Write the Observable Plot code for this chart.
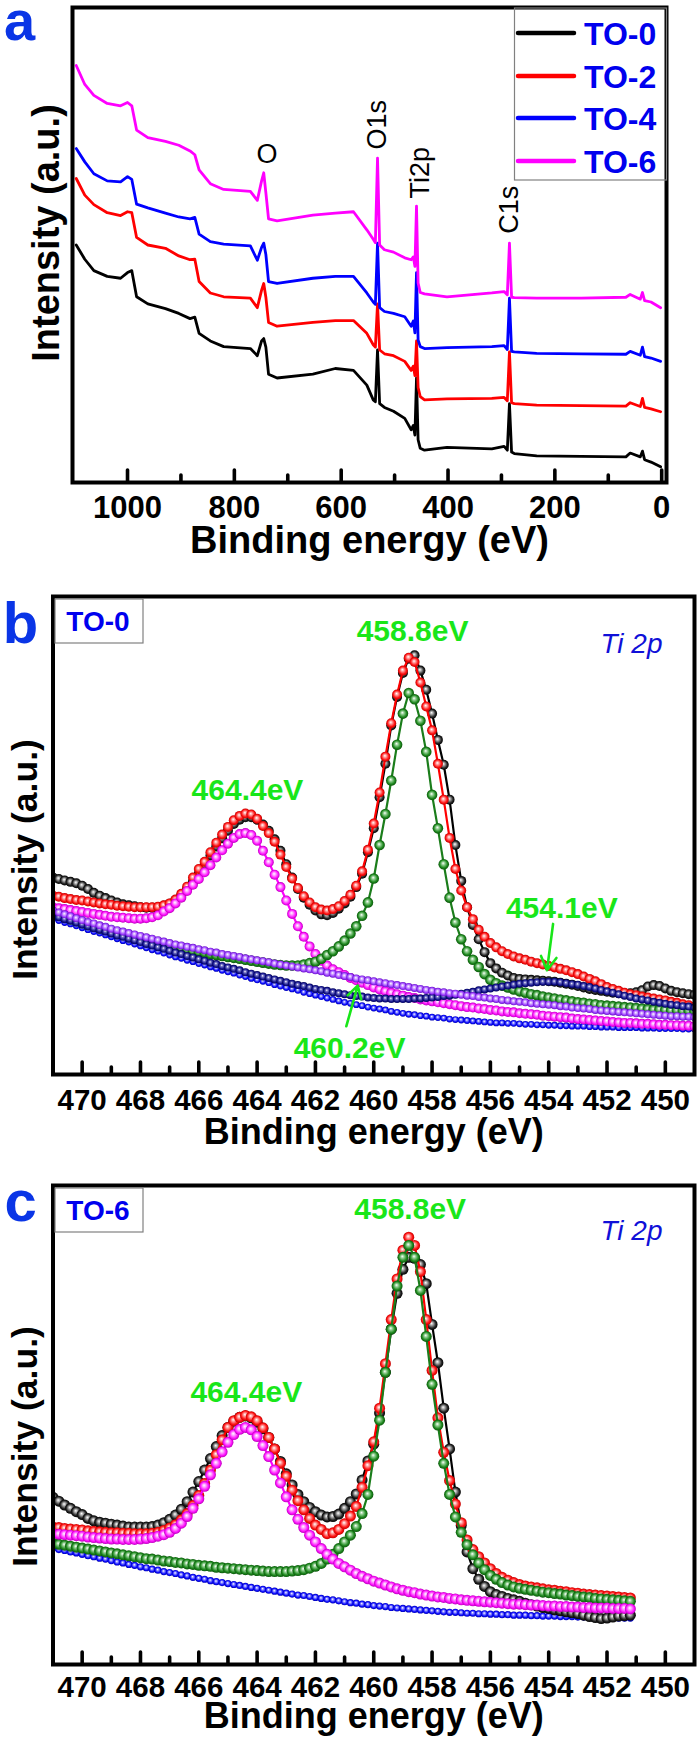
<!DOCTYPE html>
<html>
<head>
<meta charset="utf-8">
<script src="https://cdn.jsdelivr.net/npm/d3@7"></script>
<script src="https://cdn.jsdelivr.net/npm/@observablehq/plot@0.6"></script>
<style>
  body { margin: 0; background: #fff; }
  #wrap { position: relative; width: 700px; height: 1743px; background: #fff; overflow: hidden; }
  #wrap > svg { position: absolute; left: 0; }
</style>
</head>
<body>
<svg width="0" height="0" style="position:absolute"><defs id="grads"></defs></svg>
<div id="wrap"></div>
<script>
// ---------------- Panel a : survey spectra ----------------
const surveyEnergy = [1096, 1080, 1063, 1038, 1013, 1000, 992, 983, 962, 929,
  904, 883, 874, 866, 845, 820, 770, 757, 749, 745,
  741, 736, 720, 653, 611, 577, 552, 540, 536, 532,
  528, 519, 502, 481, 469, 465, 462, 459, 456, 452,
  444, 402, 318, 295, 289, 285, 281, 276, 234, 151,
  67, 59, 40, 36, 32, 20, 2];
const surveyTO0 = [50.0, 47.0, 44.6, 43.4, 43.0, 44.2, 44.6, 39.1, 37.6, 36.6,
  35.6, 34.5, 34.8, 31.4, 29.8, 28.6, 28.2, 26.7, 29.8, 30.3,
  28.5, 22.8, 22.0, 22.8, 24.0, 23.6, 20.5, 17.4, 17.0, 27.9,
  16.6, 15.8, 15.0, 13.5, 11.1, 12.0, 10.0, 22.0, 9.0, 7.2,
  6.8, 7.4, 7.1, 7.6, 6.8, 16.6, 6.4, 6.1, 5.6, 5.5,
  5.4, 6.2, 5.4, 6.6, 4.8, 4.3, 3.3];
const surveyTO2 = [64.0, 60.5, 58.5, 56.8, 56.2, 57.0, 56.8, 51.6, 50.0, 49.3,
  47.7, 46.9, 47.0, 42.3, 39.9, 39.1, 38.8, 36.8, 40.5, 41.9,
  39.0, 33.7, 32.9, 33.7, 34.1, 34.1, 31.4, 29.0, 28.5, 37.6,
  27.9, 27.1, 26.7, 25.5, 23.6, 24.5, 22.5, 29.8, 20.0, 18.1,
  17.4, 17.6, 17.7, 17.9, 17.2, 27.5, 16.8, 16.6, 16.3, 16.2,
  16.1, 16.8, 16.0, 17.7, 15.8, 15.5, 14.9];
const surveyTO4 = [70.3, 67.5, 65.0, 63.5, 63.3, 64.4, 63.8, 58.6, 57.8, 56.7,
  55.9, 55.5, 55.8, 52.3, 50.7, 50.2, 49.8, 46.8, 49.5, 50.4,
  48.0, 42.3, 41.9, 43.0, 43.4, 43.4, 39.9, 38.0, 37.5, 50.4,
  36.8, 36.0, 35.6, 34.9, 32.9, 34.0, 31.5, 44.2, 30.0, 28.6,
  28.2, 28.4, 28.6, 28.8, 28.0, 38.8, 27.6, 27.5, 27.2, 27.1,
  27.0, 27.6, 26.8, 28.5, 26.5, 26.2, 25.5];
const surveyTO6 = [87.8, 83.8, 81.5, 79.8, 79.3, 80.0, 79.3, 74.2, 72.6, 71.8,
  71.0, 69.8, 69.0, 65.8, 62.9, 61.7, 61.3, 59.4, 63.5, 65.2,
  61.0, 55.5, 55.1, 56.3, 56.7, 57.0, 53.2, 51.2, 50.5, 68.3,
  50.0, 49.0, 48.5, 47.3, 46.9, 47.5, 45.5, 58.2, 42.0, 40.0,
  39.7, 39.1, 39.9, 40.2, 39.5, 50.4, 39.0, 38.9, 38.8, 38.8,
  39.0, 39.6, 38.6, 40.0, 38.3, 38.0, 36.8];
const seriesNames = ["TO-0", "TO-2", "TO-4", "TO-6"];
const seriesColors = ["#000000", "#ff0000", "#0000ff", "#ff00ff"];
const surveyTicksMajor = [1000, 800, 600, 400, 200, 0];
const surveyTicksMinor = [900, 700, 500, 300, 100];
const surveyPeakLabels = ["O", "O1s", "Ti2p", "C1s"];
const surveyPeakEnergy = [739, 531.7, 452.3, 285.1];
const surveyPeakLevel = [69.1, 75.3, 65.2, 57.4];
const surveyPeakRotate = [0, -90, -90, -90];

// ---------------- Panels b, c : Ti 2p ----------------
const tiEnergy = [471.2, 471, 470.8, 470.6, 470.4, 470.2, 470, 469.8, 469.6, 469.4,
  469.2, 469, 468.8, 468.6, 468.4, 468.2, 468, 467.8, 467.6, 467.4,
  467.2, 467, 466.8, 466.6, 466.4, 466.2, 466, 465.8, 465.6, 465.4,
  465.2, 465, 464.8, 464.6, 464.4, 464.2, 464, 463.8, 463.6, 463.4,
  463.2, 463, 462.8, 462.6, 462.4, 462.2, 462, 461.8, 461.6, 461.4,
  461.2, 461, 460.8, 460.6, 460.4, 460.2, 460, 459.8, 459.6, 459.4,
  459.2, 459, 458.8, 458.6, 458.4, 458.2, 458, 457.8, 457.6, 457.4,
  457.2, 457, 456.8, 456.6, 456.4, 456.2, 456, 455.8, 455.6, 455.4,
  455.2, 455, 454.8, 454.6, 454.4, 454.2, 454, 453.8, 453.6, 453.4,
  453.2, 453, 452.8, 452.6, 452.4, 452.2, 452, 451.8, 451.6, 451.4,
  451.2, 451, 450.8, 450.6, 450.4, 450.2, 450, 449.8, 449.6, 449.4,
  449.2, 449, 448.8];
const tiTicksMajor = [470, 468, 466, 464, 462, 460, 458, 456, 454, 452, 450];
const tiTicksMinor = [469, 467, 465, 463, 461, 459, 457, 455, 453, 451];

// Panel b (TO-0)
const bData = [41.5, 41.2, 40.9, 40.6, 40.3, 40.0, 39.5, 38.8, 38.0, 37.4,
  36.9, 36.4, 36.0, 35.6, 35.4, 35.2, 35.0, 34.9, 34.9, 35.0,
  35.3, 35.7, 36.5, 37.5, 38.8, 40.3, 42.0, 43.8, 45.8, 47.7,
  49.4, 51.0, 52.4, 53.3, 53.8, 53.8, 53.3, 52.3, 51.0, 49.2,
  46.8, 44.0, 41.2, 38.8, 37.0, 35.5, 34.3, 33.5, 33.3, 33.8,
  34.7, 35.8, 37.2, 39.2, 42.0, 46.5, 51.5, 58.0, 65.0, 73.0,
  79.0, 84.0, 87.0, 87.7, 84.5, 80.5, 75.5, 70.0, 64.8, 57.5,
  48.0, 40.5, 35.0, 31.3, 28.3, 25.6, 23.3, 22.2, 21.3, 20.7,
  20.2, 20.0, 19.9, 19.8, 19.7, 19.6, 19.5, 19.4, 19.2, 19.0,
  18.8, 18.5, 18.2, 17.9, 17.7, 17.5, 17.3, 17.1, 17.0, 16.9,
  17.0, 17.2, 17.6, 18.4, 18.7, 18.5, 18.0, 17.5, 17.2, 17.0,
  16.8, 16.7, 16.6];
const bEnvelope = [37.8, 37.4, 37.2, 36.9, 36.7, 36.5, 36.4, 36.2, 36.0, 35.8,
  35.6, 35.5, 35.3, 35.2, 35.1, 35.0, 35.0, 35.0, 35.0, 35.1,
  35.4, 35.8, 36.6, 37.8, 39.3, 41.2, 43.0, 44.5, 46.5, 48.5,
  50.2, 51.8, 53.2, 54.1, 54.6, 54.4, 53.5, 52.0, 50.5, 48.7,
  46.0, 43.4, 41.0, 39.0, 37.3, 36.0, 35.0, 34.5, 34.3, 34.6,
  35.2, 36.3, 37.6, 39.5, 42.5, 47.0, 52.5, 59.0, 66.5, 73.5,
  79.5, 84.5, 87.2, 86.3, 82.0, 77.0, 72.0, 65.0, 57.5, 49.5,
  43.0, 38.5, 35.0, 32.5, 30.3, 28.8, 27.5, 26.6, 25.8, 25.2,
  24.7, 24.3, 24.0, 23.6, 23.3, 23.0, 22.7, 22.4, 22.1, 21.8,
  21.4, 21.0, 20.5, 20.0, 19.5, 18.9, 18.3, 17.9, 17.5, 17.1,
  16.8, 16.6, 16.3, 16.1, 15.9, 15.7, 15.5, 15.2, 15.0, 14.7,
  14.5, 14.2, 14.0];
const bPeak4644 = [35.3, 35.0, 34.8, 34.6, 34.4, 34.2, 34.0, 33.8, 33.6, 33.4,
  33.2, 33.0, 32.9, 32.8, 32.7, 32.6, 32.6, 32.7, 32.9, 33.3,
  34.1, 34.8, 35.8, 37.0, 38.4, 39.7, 40.9, 42.3, 43.8, 45.4,
  46.9, 48.3, 49.5, 50.3, 50.5, 50.1, 48.9, 46.8, 44.4, 41.8,
  39.2, 36.4, 33.6, 31.0, 28.8, 26.8, 25.2, 23.8, 22.8, 22.0,
  21.4, 20.8, 20.2, 19.7, 19.2, 18.7, 18.2, 17.8, 17.4, 17.1,
  16.8, 16.5, 16.2, 16.0, 15.7, 15.5, 15.3, 15.1, 14.9, 14.7,
  14.5, 14.3, 14.1, 14.0, 13.8, 13.7, 13.5, 13.4, 13.2, 13.1,
  13.0, 12.8, 12.7, 12.6, 12.5, 12.3, 12.2, 12.1, 12.0, 11.9,
  11.7, 11.6, 11.5, 11.4, 11.3, 11.2, 11.1, 11.0, 10.9, 10.8,
  10.8, 10.7, 10.6, 10.6, 10.5, 10.4, 10.4, 10.3, 10.3, 10.2,
  10.2, 10.1, 10.1];
const bPeak4588 = [34.1, 33.7, 33.3, 32.9, 32.5, 32.1, 31.7, 31.3, 31.0, 30.6,
  30.3, 29.9, 29.6, 29.3, 29.0, 28.7, 28.4, 28.1, 27.8, 27.5,
  27.2, 26.9, 26.7, 26.4, 26.2, 25.9, 25.7, 25.5, 25.2, 25.0,
  24.8, 24.6, 24.4, 24.2, 24.0, 23.8, 23.6, 23.4, 23.2, 23.0,
  22.9, 22.8, 22.8, 22.8, 23.0, 23.3, 23.6, 24.2, 25.0, 25.8,
  26.8, 28.0, 29.5, 31.0, 33.2, 36.0, 41.0, 48.0, 54.5, 61.5,
  69.0, 75.5, 79.8, 78.5, 74.0, 67.5, 58.5, 51.5, 44.0, 37.0,
  31.8, 28.3, 25.8, 24.0, 22.5, 21.0, 19.8, 19.1, 18.6, 18.2,
  17.8, 17.4, 17.1, 16.8, 16.6, 16.3, 16.1, 15.9, 15.7, 15.5,
  15.3, 15.1, 15.0, 14.8, 14.7, 14.5, 14.4, 14.3, 14.2, 14.1,
  14.0, 13.9, 13.8, 13.7, 13.6, 13.6, 13.5, 13.4, 13.4, 13.3,
  13.3, 13.2, 13.2];
const bPeak4541 = [33.7, 33.3, 32.9, 32.5, 32.2, 31.8, 31.4, 31.0, 30.6, 30.3,
  29.9, 29.5, 29.1, 28.8, 28.4, 28.1, 27.7, 27.3, 27.0, 26.6,
  26.3, 25.9, 25.5, 25.2, 24.8, 24.5, 24.1, 23.8, 23.4, 23.1,
  22.7, 22.4, 22.1, 21.8, 21.4, 21.1, 20.8, 20.5, 20.2, 19.9,
  19.6, 19.3, 19.0, 18.7, 18.5, 18.2, 17.9, 17.7, 17.5, 17.2,
  17.0, 16.8, 16.6, 16.4, 16.3, 16.1, 16.0, 15.9, 15.9, 15.8,
  15.8, 15.8, 15.8, 15.9, 15.9, 16.0, 16.1, 16.2, 16.4, 16.5,
  16.7, 16.9, 17.1, 17.3, 17.6, 17.8, 18.0, 18.2, 18.4, 18.6,
  18.8, 19.0, 19.1, 19.2, 19.3, 19.4, 19.4, 19.4, 19.3, 19.1,
  18.9, 18.8, 18.5, 18.3, 18.0, 17.7, 17.4, 17.1, 16.8, 16.5,
  16.2, 15.9, 15.7, 15.5, 15.2, 15.0, 14.8, 14.6, 14.5, 14.3,
  14.2, 14.0, 13.9];
const bPeak4602 = [34.7, 34.3, 33.9, 33.5, 33.1, 32.7, 32.3, 31.9, 31.6, 31.2,
  30.9, 30.5, 30.2, 29.9, 29.6, 29.3, 29.0, 28.7, 28.4, 28.1,
  27.8, 27.5, 27.2, 27.0, 26.7, 26.5, 26.2, 26.0, 25.7, 25.5,
  25.2, 25.0, 24.8, 24.6, 24.3, 24.1, 23.9, 23.7, 23.5, 23.2,
  23.0, 22.8, 22.6, 22.4, 22.2, 22.0, 21.8, 21.6, 21.3, 21.1,
  20.8, 20.6, 20.4, 20.1, 19.9, 19.7, 19.5, 19.3, 19.1, 18.9,
  18.7, 18.5, 18.3, 18.1, 17.9, 17.7, 17.5, 17.3, 17.2, 17.0,
  16.9, 16.7, 16.5, 16.4, 16.2, 16.1, 15.9, 15.8, 15.6, 15.5,
  15.3, 15.2, 15.1, 14.9, 14.8, 14.7, 14.6, 14.5, 14.3, 14.2,
  14.0, 13.9, 13.8, 13.7, 13.5, 13.4, 13.3, 13.2, 13.1, 13.0,
  12.9, 12.8, 12.7, 12.6, 12.5, 12.4, 12.3, 12.2, 12.2, 12.1,
  12.1, 12.0, 11.9];
const bBackground = [33.0, 32.6, 32.2, 31.8, 31.5, 31.1, 30.7, 30.3, 29.9, 29.6,
  29.2, 28.8, 28.4, 28.0, 27.7, 27.3, 26.9, 26.5, 26.1, 25.8,
  25.4, 25.0, 24.6, 24.3, 23.9, 23.6, 23.2, 22.9, 22.5, 22.2,
  21.8, 21.5, 21.2, 20.8, 20.5, 20.1, 19.8, 19.5, 19.2, 18.8,
  18.5, 18.2, 17.9, 17.6, 17.2, 16.9, 16.6, 16.3, 16.0, 15.7,
  15.4, 15.1, 14.9, 14.6, 14.4, 14.1, 13.9, 13.7, 13.5, 13.2,
  13.0, 12.8, 12.6, 12.5, 12.3, 12.2, 12.0, 11.9, 11.8, 11.6,
  11.5, 11.4, 11.3, 11.2, 11.1, 11.0, 10.9, 10.8, 10.8, 10.7,
  10.7, 10.6, 10.5, 10.5, 10.4, 10.4, 10.3, 10.3, 10.2, 10.2,
  10.1, 10.1, 10.1, 10.0, 10.0, 9.9, 9.9, 9.9, 9.8, 9.8,
  9.8, 9.8, 9.7, 9.7, 9.7, 9.6, 9.6, 9.6, 9.6, 9.5,
  9.5, 9.5, 9.5];

// Panel c (TO-6)
const cData = [35.4, 34.9, 34.1, 33.3, 32.6, 31.9, 31.3, 30.5, 30.0, 29.7,
  29.5, 29.3, 29.1, 28.9, 28.7, 28.7, 28.7, 28.7, 28.8, 29.1,
  29.6, 30.3, 31.2, 32.4, 34.0, 36.0, 38.2, 40.6, 43.0, 45.5,
  47.8, 49.5, 50.8, 51.6, 51.9, 51.5, 50.6, 49.2, 47.4, 45.0,
  42.4, 39.8, 37.5, 35.5, 34.0, 32.8, 31.9, 31.2, 30.8, 30.9,
  31.4, 32.6, 34.0, 35.6, 38.5, 42.5, 46.0, 52.5, 61.0, 70.0,
  77.5, 82.5, 85.0, 84.8, 83.5, 79.5, 71.0, 63.0, 53.5, 45.0,
  36.0, 29.0, 23.5, 20.0, 17.8, 16.3, 15.2, 14.6, 14.2, 13.8,
  13.5, 13.2, 12.8, 12.5, 12.2, 11.9, 11.7, 11.4, 11.2, 11.0,
  10.8, 10.6, 10.3, 10.0, 9.8, 9.6, 9.7, 9.9, 10.1, 10.2,
  10.3];
const cEnvelope = [28.9, 28.7, 28.6, 28.4, 28.3, 28.2, 28.1, 27.9, 27.8, 27.7,
  27.6, 27.5, 27.5, 27.4, 27.4, 27.3, 27.3, 27.3, 27.4, 27.6,
  28.0, 28.5, 29.2, 30.2, 31.5, 33.2, 35.3, 37.8, 40.6, 43.8,
  46.9, 49.5, 50.9, 51.6, 52.0, 51.7, 50.9, 49.4, 47.4, 45.0,
  42.0, 39.3, 36.4, 34.2, 32.3, 30.5, 29.1, 28.2, 27.3, 27.5,
  28.2, 29.4, 31.0, 33.0, 37.0, 41.5, 46.5, 53.5, 62.8, 72.0,
  80.5, 86.5, 89.2, 87.5, 82.0, 72.0, 61.4, 51.5, 44.3, 38.4,
  33.5, 29.6, 26.0, 24.0, 22.5, 21.2, 20.0, 19.0, 18.2, 17.6,
  17.1, 16.7, 16.4, 16.2, 16.0, 15.8, 15.6, 15.5, 15.3, 15.2,
  15.0, 14.9, 14.7, 14.6, 14.5, 14.4, 14.3, 14.2, 14.1, 14.0,
  13.9];
const cPeak4644 = [27.5, 27.3, 27.2, 27.1, 27.0, 26.9, 26.8, 26.6, 26.5, 26.4,
  26.3, 26.2, 26.2, 26.1, 26.1, 26.1, 26.2, 26.3, 26.5, 26.8,
  27.1, 27.6, 28.4, 29.5, 30.9, 32.6, 34.6, 37.2, 39.6, 42.0,
  44.4, 46.4, 48.0, 49.1, 49.5, 49.0, 47.6, 45.7, 43.4, 40.6,
  37.9, 35.0, 32.3, 30.3, 28.6, 27.0, 25.6, 24.2, 23.0, 22.0,
  21.1, 20.4, 19.7, 19.0, 18.4, 17.9, 17.4, 17.0, 16.6, 16.2,
  15.8, 15.5, 15.2, 15.0, 14.7, 14.5, 14.3, 14.1, 14.0, 13.8,
  13.7, 13.5, 13.4, 13.3, 13.2, 13.1, 13.0, 12.9, 12.8, 12.7,
  12.6, 12.6, 12.5, 12.4, 12.4, 12.3, 12.2, 12.2, 12.1, 12.1,
  12.0, 12.0, 11.9, 11.9, 11.8, 11.8, 11.8, 11.7, 11.7, 11.7,
  11.6];
const cPeak4588 = [25.6, 25.3, 25.1, 24.9, 24.7, 24.5, 24.3, 24.1, 23.9, 23.7,
  23.5, 23.3, 23.1, 22.9, 22.7, 22.5, 22.3, 22.1, 22.0, 21.8,
  21.6, 21.5, 21.3, 21.2, 21.0, 20.9, 20.7, 20.6, 20.5, 20.3,
  20.2, 20.1, 20.0, 19.9, 19.8, 19.7, 19.6, 19.5, 19.4, 19.4,
  19.4, 19.4, 19.5, 19.6, 19.8, 20.1, 20.5, 21.1, 22.0, 23.0,
  24.2, 25.6, 27.0, 28.8, 31.5, 35.5, 43.5, 51.0, 61.0, 70.0,
  79.0, 85.0, 87.5, 85.0, 78.1, 68.5, 58.5, 50.0, 42.0, 35.5,
  30.8, 27.6, 25.0, 22.9, 21.2, 19.8, 18.6, 17.8, 17.1, 16.6,
  16.2, 15.9, 15.7, 15.5, 15.3, 15.1, 15.0, 14.8, 14.7, 14.5,
  14.4, 14.2, 14.1, 14.0, 13.8, 13.7, 13.6, 13.5, 13.4, 13.3,
  13.2];
const cBackground = [24.6, 24.3, 24.0, 23.8, 23.5, 23.3, 23.0, 22.7, 22.5, 22.2,
  22.0, 21.7, 21.4, 21.2, 20.9, 20.7, 20.4, 20.2, 19.9, 19.7,
  19.4, 19.2, 19.0, 18.7, 18.5, 18.2, 18.0, 17.8, 17.5, 17.3,
  17.1, 16.9, 16.7, 16.5, 16.3, 16.1, 15.9, 15.7, 15.5, 15.3,
  15.1, 14.9, 14.7, 14.5, 14.4, 14.2, 14.0, 13.8, 13.6, 13.5,
  13.3, 13.1, 12.9, 12.8, 12.6, 12.5, 12.3, 12.2, 12.1, 11.9,
  11.8, 11.7, 11.6, 11.5, 11.4, 11.3, 11.2, 11.1, 11.0, 10.9,
  10.9, 10.8, 10.7, 10.7, 10.6, 10.6, 10.5, 10.5, 10.4, 10.4,
  10.3, 10.3, 10.3, 10.2, 10.2, 10.1, 10.1, 10.1, 10.0, 10.0,
  10.0, 9.9, 9.9, 9.9, 9.8, 9.8, 9.8, 9.8, 9.7, 9.7,
  9.7];

// annotations (binding energy, relative intensity)
const bPeakLabels = ["458.8eV", "464.4eV", "454.1eV", "460.2eV"];
const bPeakLabelE = [458.67, 464.33, 453.55, 460.83];
const bPeakLabelV = [92.7, 59.4, 34.7, 5.4];
const bArrowFromE = [453.85, 460.94];
const bArrowFromV = [31.5, 10.1];
const bArrowToE = [454.06, 460.55];
const bArrowToV = [21.8, 18.6];
const cPeakLabels = ["458.8eV", "464.4eV"];
const cPeakLabelE = [458.75, 464.37];
const cPeakLabelV = [95.0, 56.8];

// ---------------- styling ----------------
const FONT = '"Liberation Sans", Arial, Helvetica, sans-serif';
const LETTER_BLUE = "#0a35e6";
const LABEL_BLUE = "#0000ee";
const ANNOT_GREEN = "#19e619";
const TICK_FONT = 29.5;
const beadStyles = {
  black:   {line: "#000000", stops: ["#ffffff", "#a8a8a8", "#262626", "#000000"]},
  red:     {line: "#ff0000", stops: ["#ffffff", "#ff9c9c", "#ff1414", "#c40000"]},
  magenta: {line: "#ff00ff", stops: ["#ffffff", "#ffa6ff", "#ff14ff", "#bb00bb"]},
  green:   {line: "#1b7d1b", stops: ["#ffffff", "#93cf93", "#208a20", "#0a560a"]},
  navy:    {line: "#121282", stops: ["#ffffff", "#7474c4", "#16168f", "#00005a"]},
  purple:  {line: "#9430ff", stops: ["#ffffff", "#d4acff", "#9c40ff", "#6a12c8"]},
  blue:    {line: "#0000ff", stops: ["#ffffff", "#9090ff", "#0c0cff", "#0000b4"]}
};
document.getElementById("grads").innerHTML = Object.entries(beadStyles).map(([k, s]) =>
  `<radialGradient id="bead-${k}" cx="50%" cy="50%" r="50%" fx="44%" fy="40%">
     <stop offset="0" stop-color="${s.stops[0]}"/>
     <stop offset="0.3" stop-color="${s.stops[1]}"/>
     <stop offset="0.72" stop-color="${s.stops[2]}"/>
     <stop offset="1" stop-color="${s.stops[3]}"/>
   </radialGradient>`).join("");

const wrap = document.getElementById("wrap");
const centered = {textAnchor: "middle", lineAnchor: "middle"};

// ---------------- panel a ----------------
(function () {
  const height = 580, mt = 7, mb = 98, innerH = height - mt - mb;
  const all = [surveyTO0, surveyTO2, surveyTO4, surveyTO6];
  const peaks = surveyPeakLabels.map((label, i) => ({label, e: surveyPeakEnergy[i], v: surveyPeakLevel[i], rot: surveyPeakRotate[i]}));
  const svg = Plot.plot({
    width: 700, height,
    marginLeft: 72, marginRight: 34, marginTop: mt, marginBottom: mb,
    x: {domain: [1103, -9], axis: null},
    y: {domain: [0, 100], axis: null},
    style: {fontFamily: FONT, background: "transparent", color: "#000"},
    marks: [
      ...all.map((vals, k) => Plot.line(surveyEnergy.map((e, i) => ({e, v: vals[i]})),
        {x: "e", y: "v", stroke: seriesColors[k], strokeWidth: 2.8, strokeLinejoin: "round"})),
      Plot.text(peaks.filter(d => d.rot === 0), {x: "e", y: "v", text: "label", fontSize: 27, fill: "#000", ...centered}),
      Plot.text(peaks.filter(d => d.rot !== 0), {x: "e", y: "v", text: "label", rotate: -90, fontSize: 27, fill: "#000", ...centered}),
      Plot.tickX(surveyTicksMajor, {x: d => d, insetTop: innerH - 12, stroke: "#000", strokeWidth: 3.6, strokeLinecap: "round"}),
      Plot.tickX(surveyTicksMinor, {x: d => d, insetTop: innerH - 7, stroke: "#000", strokeWidth: 3.6, strokeLinecap: "round"}),
      Plot.text(surveyTicksMajor, {x: d => d, text: d => String(d), frameAnchor: "bottom", dy: 26, fontSize: 31, fontWeight: "bold", fill: "#000", ...centered}),
      Plot.text(["Binding energy (eV)"], {frameAnchor: "bottom", dy: 58, fontSize: 38, fontWeight: "bold", fill: "#000", ...centered}),
      Plot.text(["Intensity (a.u.)"], {frameAnchor: "left", rotate: -90, dx: -26, dy: -12, fontSize: 38, fontWeight: "bold", fill: "#000", ...centered}),
      Plot.text(["a"], {frameAnchor: "top-left", dx: -53, dy: 15, fontSize: 56, fontWeight: "bold", fill: LETTER_BLUE, ...centered}),
      Plot.frame({stroke: "#000", strokeWidth: 4})
    ]
  });
  svg.style.top = "0px";
  wrap.appendChild(svg);
})();

// ---------------- panels b, c ----------------
function tiPanel(opts) {
  const {top, height, mt, mb, series, letter, letterDy, tickDy, xlabelDy, ylabelDy, labels, arrows} = opts;
  const innerH = height - mt - mb;
  const marks = [];
  for (const s of series) {
    const rows = s.values.map((v, i) => ({e: tiEnergy[i], v}));
    marks.push(Plot.line(rows, {x: "e", y: "v", stroke: beadStyles[s.style].line, strokeWidth: 2.2, clip: true}));
    marks.push(Plot.dot(rows, {x: "e", y: "v", r: s.r, fill: `url(#bead-${s.style})`, clip: true}));
  }
  if (arrows) marks.push(Plot.arrow(arrows, {x1: "x1", y1: "y1", x2: "x2", y2: "y2", stroke: ANNOT_GREEN, strokeWidth: 2.6, headLength: 14}));
  marks.push(
    Plot.text(labels, {x: "e", y: "v", text: "label", fontSize: 30, fontWeight: "bold", fill: ANNOT_GREEN, ...centered}),
    Plot.text(["Ti 2p"], {frameAnchor: "top-right", dx: -63, dy: opts.tiDy, fontSize: 28, fontStyle: "italic", fill: "#1010d8", ...centered}),
    Plot.tickX(tiTicksMajor, {x: d => d, insetTop: innerH - 12, stroke: "#000", strokeWidth: 3.6, strokeLinecap: "round"}),
    Plot.tickX(tiTicksMinor, {x: d => d, insetTop: innerH - 7, stroke: "#000", strokeWidth: 3.6, strokeLinecap: "round"}),
    Plot.text(tiTicksMajor, {x: d => d, text: d => String(d), frameAnchor: "bottom", dy: tickDy, fontSize: TICK_FONT, fontWeight: "bold", fill: "#000", ...centered}),
    Plot.text(["Binding energy (eV)"], {frameAnchor: "bottom", dy: xlabelDy, fontSize: 36, fontWeight: "bold", fill: "#000", ...centered}),
    Plot.text(["Intensity (a.u.)"], {frameAnchor: "left", rotate: -90, dx: -27, dy: ylabelDy, fontSize: 35.5, fontWeight: "bold", fill: "#000", ...centered}),
    Plot.text([letter], {frameAnchor: "top-left", dx: -32.5, dy: letterDy, fontSize: 58, fontWeight: "bold", fill: LETTER_BLUE, ...centered}),
    Plot.frame({stroke: "#000", strokeWidth: 4})
  );
  const svg = Plot.plot({
    width: 700, height,
    marginLeft: 52.5, marginRight: 6, marginTop: mt, marginBottom: mb,
    x: {domain: [471, 449], axis: null},
    y: {domain: [0, 100], axis: null},
    style: {fontFamily: FONT, background: "transparent", color: "#000"},
    marks
  });
  svg.style.top = top + "px";
  wrap.appendChild(svg);
}

tiPanel({
  top: 580, height: 580, mt: 16, mb: 86, letter: "b", letterDy: 28.4, tickDy: 26, xlabelDy: 58, ylabelDy: 24, tiDy: 48,
  series: [
    {values: bBackground, style: "blue", r: 3.4},
    {values: bData, style: "black", r: 5},
    {values: bEnvelope, style: "red", r: 5},
    {values: bPeak4644, style: "magenta", r: 5},
    {values: bPeak4588, style: "green", r: 5.3},
    {values: bPeak4541, style: "navy", r: 4},
    {values: bPeak4602, style: "purple", r: 4}
  ],
  labels: bPeakLabels.map((label, i) => ({label, e: bPeakLabelE[i], v: bPeakLabelV[i]})),
  arrows: bArrowFromE.map((e, i) => ({x1: e, y1: bArrowFromV[i], x2: bArrowToE[i], y2: bArrowToV[i]}))
});

tiPanel({
  top: 1160, height: 583, mt: 25, mb: 79, letter: "c", letterDy: 17, tickDy: 23, xlabelDy: 52, ylabelDy: 21.5, tiDy: 46,
  series: [
    {values: cBackground, style: "blue", r: 3.6},
    {values: cData, style: "black", r: 5.5},
    {values: cEnvelope, style: "red", r: 5.5},
    {values: cPeak4588, style: "green", r: 5.5},
    {values: cPeak4644, style: "magenta", r: 5.5}
  ],
  labels: cPeakLabels.map((label, i) => ({label, e: cPeakLabelE[i], v: cPeakLabelV[i]})),
  arrows: null
});

// ---------------- legend and sample boxes ----------------
const overlay = d3.create("svg")
  .attr("width", 700).attr("height", 1743)
  .style("top", "0px").style("pointer-events", "none")
  .style("font-family", FONT);
const lg = overlay.append("g");
lg.append("rect").attr("x", 514.5).attr("y", 8).attr("width", 152).attr("height", 172)
  .attr("fill", "none").attr("stroke", "#808080").attr("stroke-width", 1.2);
const rowY = [33, 76, 118, 161];
seriesNames.forEach((name, k) => {
  lg.append("line").attr("x1", 518).attr("x2", 574).attr("y1", rowY[k]).attr("y2", rowY[k])
    .attr("stroke", seriesColors[k]).attr("stroke-width", 4.5).attr("stroke-linecap", "round");
  lg.append("text").attr("x", 584).attr("y", rowY[k]).attr("dy", "0.36em")
    .attr("font-size", 32).attr("font-weight", "bold").attr("fill", LABEL_BLUE).text(name);
});
const sampleBoxes = [{name: "TO-0", y: 599}, {name: "TO-6", y: 1188}];
sampleBoxes.forEach(b => {
  overlay.append("rect").attr("x", 55).attr("y", b.y).attr("width", 88).attr("height", 44)
    .attr("fill", "none").attr("stroke", "#808080").attr("stroke-width", 1.2);
  overlay.append("text").attr("x", 98).attr("y", b.y + 22).attr("dy", "0.36em").attr("text-anchor", "middle")
    .attr("font-size", 28).attr("font-weight", "bold").attr("fill", LABEL_BLUE).text(b.name);
});
wrap.appendChild(overlay.node());
</script>
</body>
</html>
